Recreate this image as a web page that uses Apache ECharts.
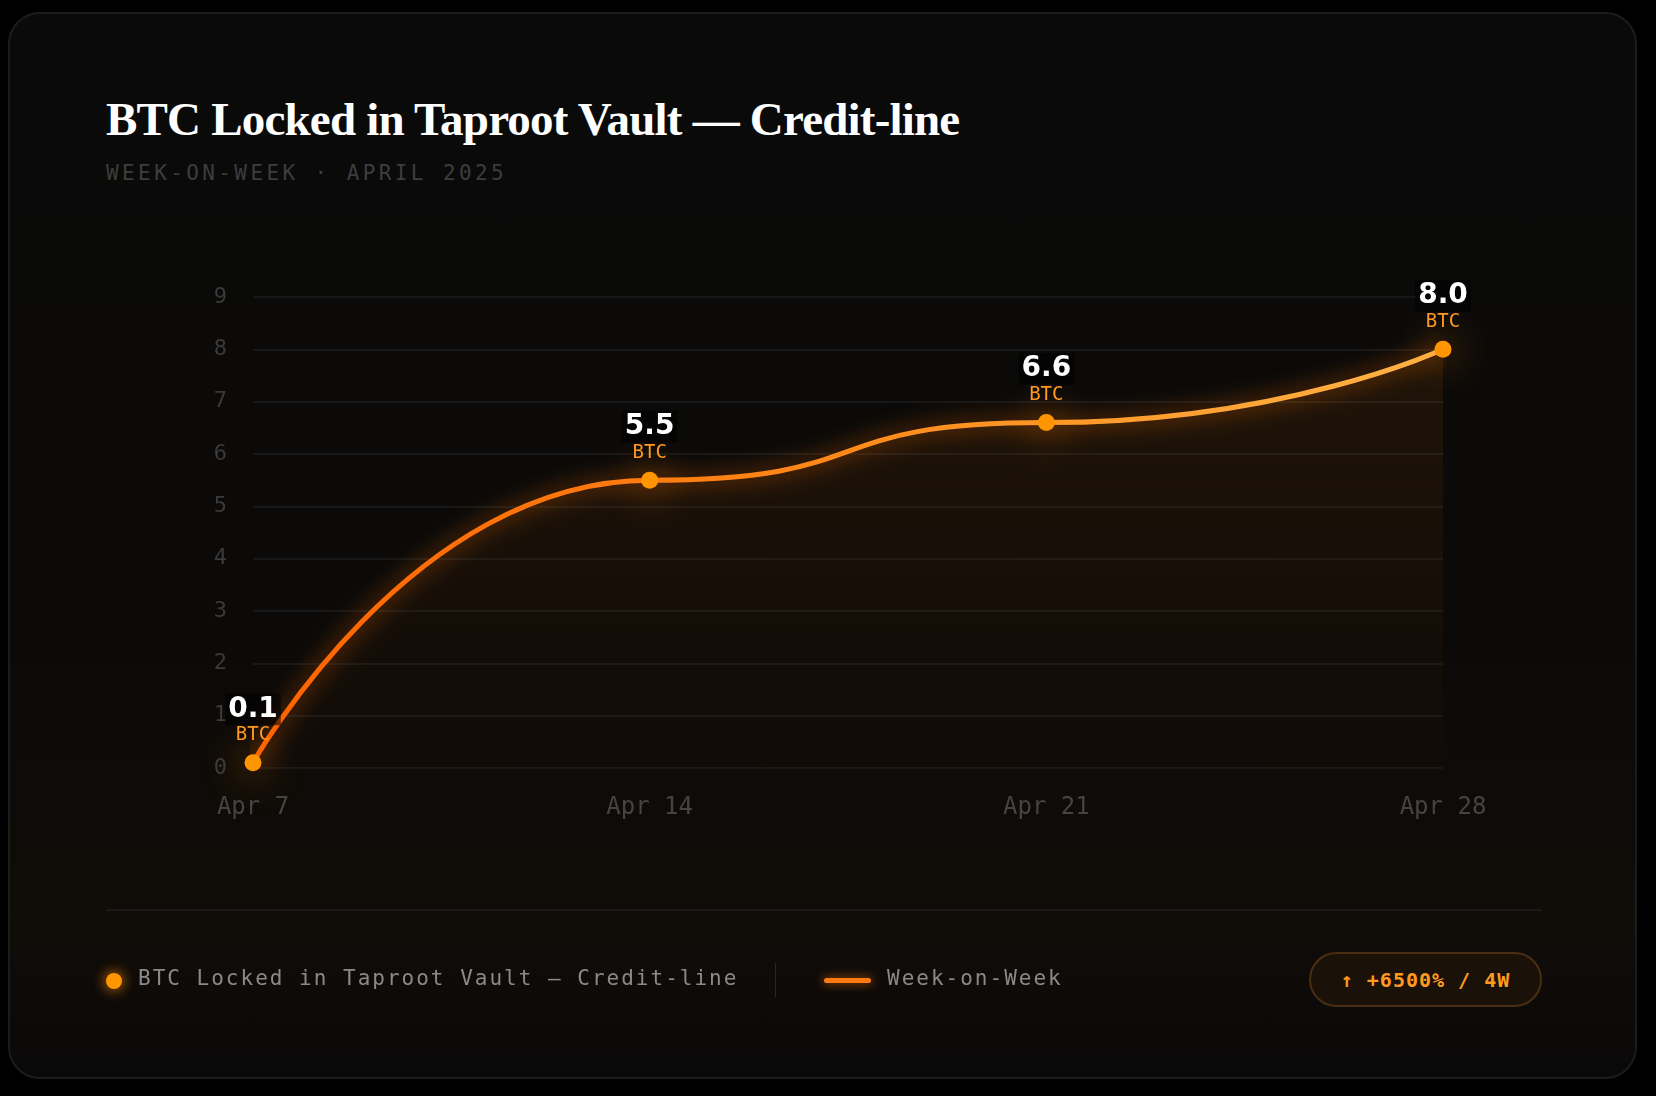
<!DOCTYPE html>
<html>
<head>
<meta charset="utf-8">
<script src="https://cdn.jsdelivr.net/npm/echarts@6/dist/echarts.min.js"></script>
<style>
  html, body { margin: 0; padding: 0; background: #000; width: 1656px; height: 1096px; overflow: hidden; }
  .card {
    position: absolute; left: 8px; top: 12px; width: 1629px; height: 1067px;
    border: 2px solid #1c1c1c; border-radius: 32px; box-sizing: border-box;
    background: linear-gradient(180deg, #0a0a0a 0%, #0c0a08 60%, #100c08 85%, #0a0909 100%);
  }
  #chart { position: absolute; left: 0; top: 0; width: 1656px; height: 1096px; }
  .title { position: absolute; left: 106px; top: 92px; font-family: "Liberation Serif", serif; font-weight: bold;
    font-size: 47px; color: #fff; letter-spacing: -0.8px; }
  .sub { position: absolute; left: 106px; top: 161px; font-family: "DejaVu Sans Mono", monospace; font-size: 21px;
    color: #3d3d3d; letter-spacing: 3.4px; }
  .sep { position: absolute; left: 106px; top: 909px; width: 1436px; height: 2px; background: #1c1a18; }
  .legend { position: absolute; top: 966px; font-family: "DejaVu Sans Mono", monospace; font-size: 21px; color: #8a8a8a; letter-spacing: 2px; }
  .dot { position: absolute; left: 106px; top: 973px; width: 16px; height: 16px; border-radius: 50%; background: #ff9500;
    box-shadow: 0 0 12px 3px rgba(255,140,0,0.5); }
  .vdiv { position: absolute; left: 775px; top: 963px; width: 1px; height: 34px; background: #2a2520; }
  .lline { position: absolute; left: 824px; top: 978px; width: 47px; height: 5px; border-radius: 3px; background: #ff7a10;
    box-shadow: 0 0 10px 2px rgba(255,120,0,0.4); }
  .badge { position: absolute; left: 1309px; top: 952px; width: 233px; height: 55px; box-sizing: border-box;
    border: 2px solid #4a2e12; border-radius: 28px; background: #1a1209; color: #ff9a1f;
    font-family: "DejaVu Sans Mono", monospace; font-size: 20px; font-weight: bold; letter-spacing: 1px;
    display: flex; align-items: center; justify-content: center; }
</style>
</head>
<body>
<div class="card"></div>
<div class="title">BTC Locked in Taproot Vault — Credit-line</div>
<div class="sub">WEEK-ON-WEEK · APRIL 2025</div>
<div id="chart"></div>
<div class="sep"></div>
<div class="dot"></div>
<div class="legend" style="left:138px">BTC Locked in Taproot Vault — Credit-line</div>
<div class="vdiv"></div>
<div class="lline"></div>
<div class="legend" style="left:887px">Week-on-Week</div>
<div class="badge">↑ +6500% / 4W</div>
<script>
const weeks = ['Apr 7', 'Apr 14', 'Apr 21', 'Apr 28'];
const btcLocked = [0.1, 5.5, 6.6, 8.0];

const chart = echarts.init(document.getElementById('chart'));
const mono = 'DejaVu Sans Mono, monospace';
chart.setOption({
  backgroundColor: 'transparent',
  grid: { left: 253, right: 213, top: 297, bottom: 328 },
  xAxis: {
    type: 'category', data: weeks, boundaryGap: false,
    axisLine: { show: false }, axisTick: { show: false },
    axisLabel: { color: '#444', fontFamily: mono, fontSize: 24, margin: 28 }
  },
  yAxis: {
    type: 'value', min: 0, max: 9, interval: 1,
    axisLine: { show: false }, axisTick: { show: false },
    axisLabel: { color: '#3a3a3a', fontFamily: mono, fontSize: 22, margin: 26 },
    splitLine: { lineStyle: { color: '#1c1c1c', width: 1.5 } }
  },
  series: [{
    type: 'line', data: btcLocked, smooth: 0.6, smoothMonotone: 'x',
    symbol: 'circle', symbolSize: 17,
    itemStyle: { color: '#ff9500', shadowBlur: 40, shadowColor: 'rgba(255,130,0,1)' },
    lineStyle: {
      width: 5,
      color: new echarts.graphic.LinearGradient(0, 0, 1, 0, [
        { offset: 0, color: '#ff6200' }, { offset: 0.5, color: '#ff8a1a' }, { offset: 1, color: '#ffb347' }
      ]),
      shadowBlur: 22, shadowColor: 'rgba(255,110,0,0.8)'
    },
    areaStyle: {
      color: new echarts.graphic.LinearGradient(0, 0, 0, 1, [
        { offset: 0, color: 'rgba(255,130,0,0.12)' }, { offset: 1, color: 'rgba(255,110,0,0.02)' }
      ])
    },
    label: {
      show: true, position: 'top', distance: 8,
      formatter: p => '{v|' + p.value.toFixed(1) + '}\n{u|BTC}',
      rich: {
        v: { color: '#fff', fontSize: 28, fontWeight: 'bold', fontFamily: 'DejaVu Sans, sans-serif',
             backgroundColor: 'rgba(0,0,0,0.55)', padding: [2, 3], lineHeight: 30 },
        u: { color: '#ff9a1f', fontSize: 19, fontFamily: mono, lineHeight: 22 }
      }
    }
  }]
});
</script>
</body>
</html>
